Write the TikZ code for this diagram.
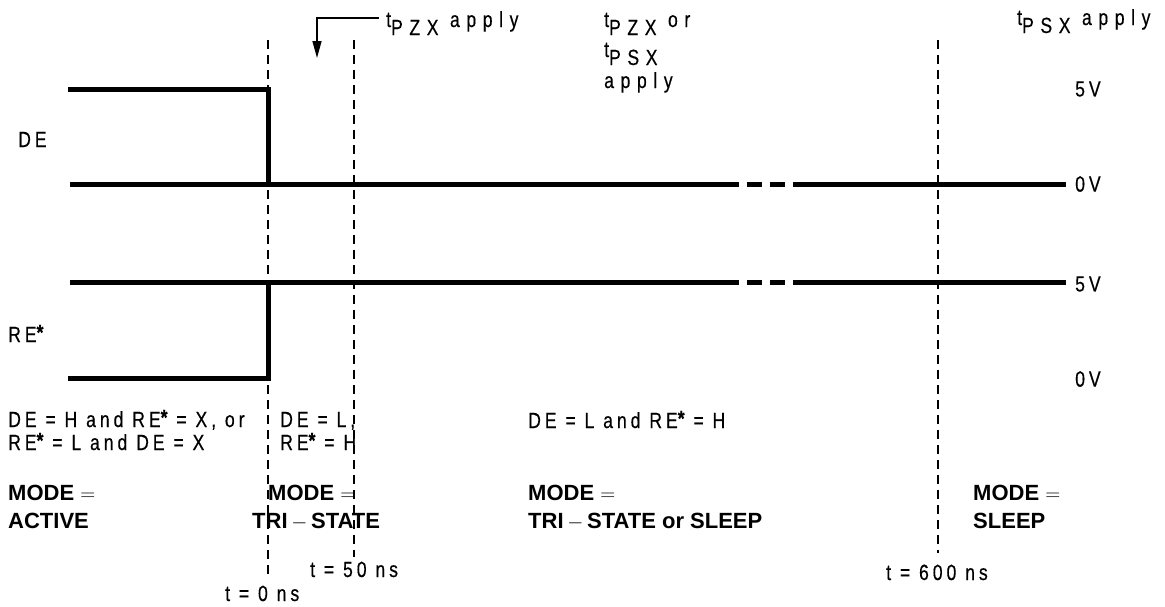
\documentclass[tikz,border=0pt]{standalone}
\usepackage{fontspec}
\setmainfont{Liberation Sans}
\newfontfamily\sigfont[FakeStretch=0.8,LetterSpace=18,FakeBold=0.4]{Liberation Sans}
\newfontfamily\topfont[FakeStretch=0.8,LetterSpace=30,FakeBold=0.4]{Liberation Sans}
\usetikzlibrary{arrows.meta}
\newcommand{\rstar}{\raisebox{2pt}{\bfseries *}}
\newcommand{\tlow}[1]{\raisebox{-8pt}{#1}}
\tikzset{
  wave/.style={line width=5pt},
  marker/.style={line width=1.5pt, dash pattern=on 9pt off 6pt},
  pointer/.style={line width=1.5pt, -{Triangle[length=17pt,width=9pt]}},
  sig/.style={anchor=base west, inner sep=0pt, text height=16pt, text depth=4pt, font=\sigfont\fontsize{22}{26}\selectfont},
  toplbl/.style={anchor=base west, inner sep=0pt, text height=16pt, text depth=8pt, font=\topfont\fontsize{22}{26}\selectfont},
  volt/.style={anchor=west, inner sep=0pt, font=\sigfont\fontsize{22}{26}\selectfont},
  modelbl/.style={anchor=base west, inner sep=0pt, text height=16pt, text depth=4pt, font=\bfseries\fontsize{22}{26}\selectfont},
}
\begin{document}
\begin{tikzpicture}[x=1pt, y=-1pt]
\useasboundingbox (0,0) rectangle (1165,606);

\coordinate (A) at (68,89);
\coordinate (B) at (268,89);
\coordinate (C) at (268,184);
\coordinate (D) at (70,184);
\coordinate (E) at (1066,184);
\coordinate (F) at (70,282);
\coordinate (G) at (1066,282);
\coordinate (H) at (268,282);
\coordinate (I) at (268,378);
\coordinate (J) at (68,378);

\draw[wave] (A) -- (B) -- (C);
\draw[wave] (J) -- (I) -- (H);
\draw[wave] (D) -- (739,184);
\draw[wave] (747,184) -- (762,184);
\draw[wave] (770,184) -- (785,184);
\draw[wave] (793,184) -- (E);
\draw[wave] (F) -- (739,282);
\draw[wave] (747,282) -- (762,282);
\draw[wave] (770,282) -- (785,282);
\draw[wave] (793,282) -- (G);

\draw[marker] (268,40) -- (268,575);
\draw[marker] (354,40) -- (354,557);
\draw[marker] (938,40) -- (938,553);

\coordinate (arrowstart) at (379,18);
\coordinate (arrowend) at (317,58);
\draw[pointer] (arrowstart) -| (arrowend);

\node[toplbl] (tpzx) at (386,27) {t\tlow{PZX} apply};
\node[toplbl] (tpzxor) at (604,27) {t\tlow{PZX} or};
\node[toplbl] (tpsx) at (604,57) {t\tlow{PSX}};
\node[toplbl] (tapply) at (604,88) {apply};
\node[toplbl] (tpsxapply) at (1017,25) {t\tlow{PSX} apply};

\node[volt] (de5) at (1075,89) {5V};
\node[volt] (de0) at (1075,184) {0V};
\node[volt] (re5) at (1075,284) {5V};
\node[volt] (re0) at (1075,379) {0V};

\node[sig] (de) at (18,147) {DE};
\node[sig] (re) at (8,342) {RE\rstar};

\node[sig] (actA) at (8,427) {DE = H and RE\rstar{} = X, or};
\node[sig] (actB) at (8,450) {RE\rstar{} = L and DE = X};
\node[sig] (triA) at (280,427) {DE = L,};
\node[sig] (triB) at (280,450) {RE\rstar{} = H};
\node[sig] (slpA) at (528,428) {DE = L and RE\rstar{} = H};

\node[modelbl] (modeA) at (8,500) {MODE $=$};
\node[modelbl] (modeAb) at (8,528) {ACTIVE};
\node[modelbl] (modeT) at (268,500) {MODE $=$};
\node[modelbl] (modeTb) at (252,528) {TRI\,$-$\,STATE};
\node[modelbl] (modeS) at (528,500) {MODE $=$};
\node[modelbl] (modeSb) at (528,528) {TRI\,$-$\,STATE or SLEEP};
\node[modelbl] (modeP) at (973,500) {MODE $=$};
\node[modelbl] (modePb) at (973,528) {SLEEP};

\node[sig] (t50) at (310,577) {t = 50 ns};
\node[sig] (t0) at (225,601) {t = 0 ns};
\node[sig] (t600) at (886,580) {t = 600 ns};
\end{tikzpicture}
\end{document}
